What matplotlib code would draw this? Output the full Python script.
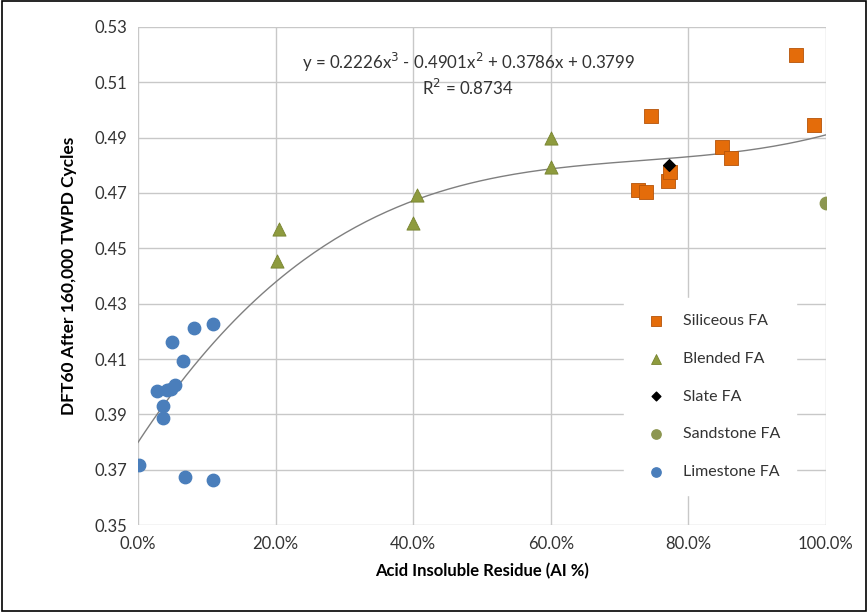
import numpy as np
import matplotlib
matplotlib.use("Agg")
import matplotlib.pyplot as plt
from matplotlib.ticker import FuncFormatter

plt.rcParams["font.family"] = ["Lato", "DejaVu Sans"]

# data (x = acid insoluble residue fraction)
siliceous_x = [0.956, 0.746, 0.983, 0.849, 0.862, 0.770, 0.727, 0.738, 0.773]
siliceous_y = [0.5198, 0.4977, 0.4944, 0.4867, 0.4827, 0.4743, 0.4712, 0.4705, 0.4776]

blended_x = [0.205, 0.202, 0.405, 0.400, 0.600, 0.600]
blended_y = [0.4569, 0.4455, 0.4693, 0.4591, 0.4900, 0.4795]

slate_x = [0.772]
slate_y = [0.4801]

sandstone_x = [1.000]
sandstone_y = [0.4664]

limestone_x = [0.001, 0.068, 0.109, 0.081, 0.109, 0.049, 0.065, 0.028, 0.042,
               0.054, 0.048, 0.036, 0.036]
limestone_y = [0.3718, 0.3675, 0.3664, 0.4213, 0.4228, 0.4163, 0.4093, 0.3984,
               0.3988, 0.4006, 0.3990, 0.3929, 0.3886]

# trendline coefficients as shown on the chart
trend_coef = [0.2226, -0.4901, 0.3786, 0.3799]
trend_eq = "y = 0.2226x$^{3}$ - 0.4901x$^{2}$ + 0.3786x + 0.3799"
trend_r2 = "R$^{2}$ = 0.8734"

fig = plt.figure(figsize=(8.68, 6.12), dpi=100)
ax = fig.add_axes([0.159, 0.142, 0.7925, 0.814])

xs = np.linspace(0, 1, 200)
ax.plot(xs, np.polyval(trend_coef, xs), color="#7f7f7f", lw=1.0, zorder=3)

ax.scatter(siliceous_x, siliceous_y, marker="s", s=90, color="#E46C0A",
           edgecolors="#B5540A", linewidths=0.6, label="Siliceous FA", zorder=4)
ax.scatter(blended_x, blended_y, marker="^", s=90, color="#8E9B3E",
           edgecolors="#77832F", linewidths=0.6, label="Blended FA", zorder=4)
ax.scatter(slate_x, slate_y, marker="D", s=35, color="black",
           label="Slate FA", zorder=5)
ax.scatter(sandstone_x, sandstone_y, marker="o", s=80, color="#8C9650",
           label="Sandstone FA", zorder=4)
ax.scatter(limestone_x, limestone_y, marker="o", s=80, color="#4A7EBB",
           label="Limestone FA", zorder=4)

ax.set_xlim(0, 1)
ax.set_ylim(0.35, 0.53)
ax.set_xticks(np.arange(0, 1.01, 0.2))
ax.set_yticks(np.arange(0.35, 0.531, 0.02))
ax.xaxis.set_major_formatter(FuncFormatter(lambda v, p: "{:.1f}%".format(v * 100)))
ax.yaxis.set_major_formatter(FuncFormatter(lambda v, p: "{:.2f}".format(v)))
ax.tick_params(length=0, labelsize=12, colors="#333333", pad=8)
ax.grid(True, color="#c8c8c8", lw=1.0)
ax.set_axisbelow(True)
for s in ax.spines.values():
    s.set_visible(False)

ax.set_xlabel("Acid Insoluble Residue (AI %)", fontsize=12, fontweight="bold",
              labelpad=8)
ax.set_ylabel("DFT60 After 160,000 TWPD Cycles", fontsize=12.5,
              fontweight="bold", labelpad=12)

ax.text(0.48, 0.928, trend_eq, transform=ax.transAxes, ha="center",
        va="center", fontsize=12.2, color="#333333")
ax.text(0.48, 0.877, trend_r2, transform=ax.transAxes, ha="center",
        va="center", fontsize=12.2, color="#333333")

leg = ax.legend(loc="lower right", bbox_to_anchor=(0.957, 0.06),
                frameon=True, fontsize=11.5, labelspacing=1.48,
                handletextpad=0.7, borderpad=1.0, borderaxespad=0,
                markerscale=0.75)
leg.get_frame().set_edgecolor("white")
leg.get_frame().set_facecolor("white")
leg.get_frame().set_alpha(1.0)
for t in leg.get_texts():
    t.set_color("#333333")

# outer chart border
fig.patches.append(plt.Rectangle((0.002, 0.002), 0.996, 0.996,
                                 transform=fig.transFigure, fill=False,
                                 edgecolor="black", lw=1.2))

fig.savefig("out.png", dpi=100)
